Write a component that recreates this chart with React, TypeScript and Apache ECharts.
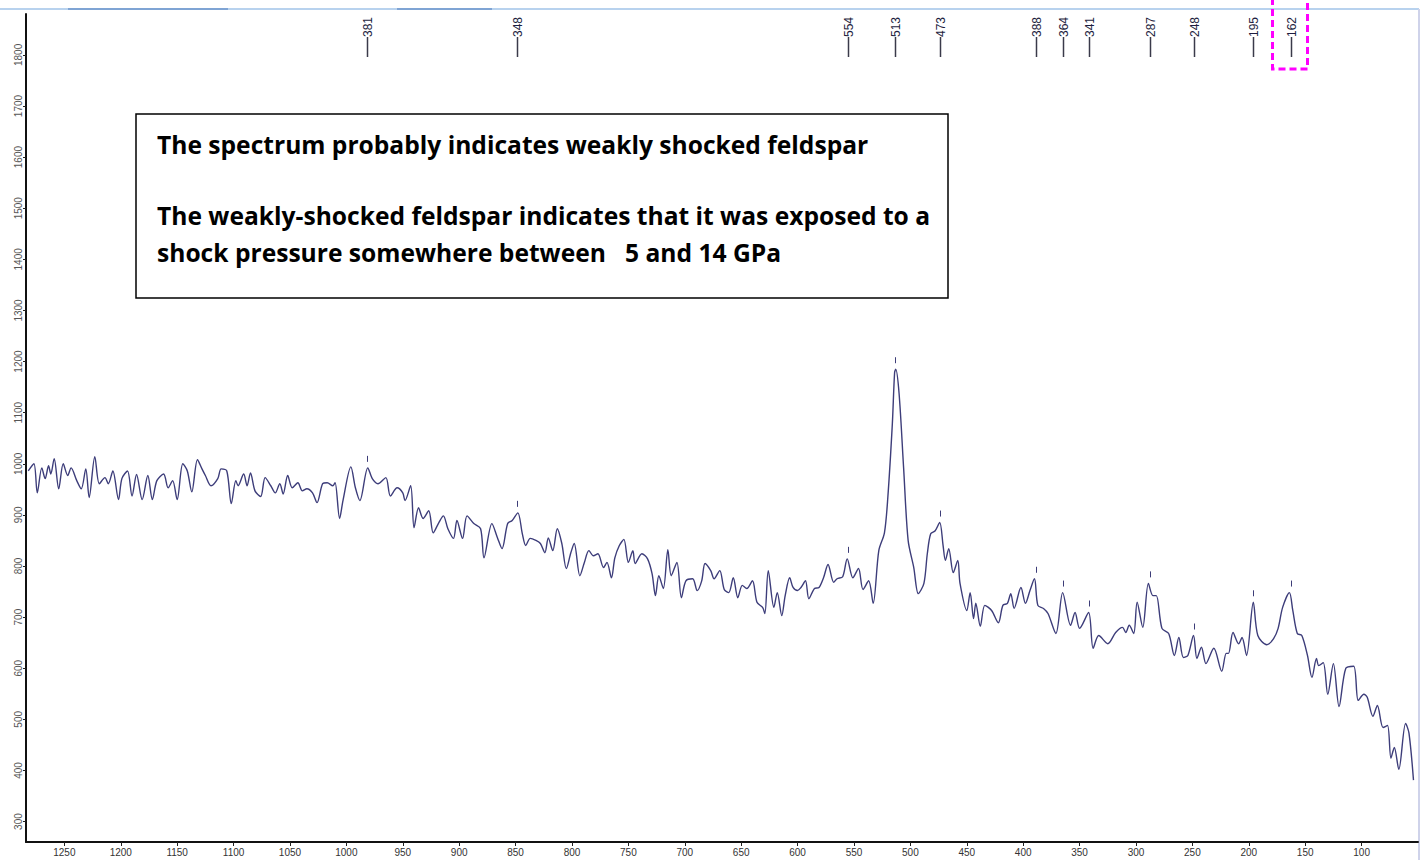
import React, { useEffect, useRef } from "react";
import * as echarts from "echarts";

// Raman shift (cm-1), descending
const wavenumbers = [
  1282, 1277, 1274, 1270, 1267, 1264, 1262, 1259, 1255, 1251, 1247, 1244, 1239, 1235, 1231, 1228, 1223, 1219, 1214, 1211,
  1207, 1202, 1199, 1194, 1190, 1186, 1181, 1176, 1172, 1168, 1162, 1158, 1154, 1150, 1145, 1141, 1137, 1132, 1128, 1125,
  1120, 1114, 1111, 1106, 1102, 1098, 1096, 1091, 1088, 1085, 1081, 1076, 1072, 1067, 1063, 1059, 1056, 1052, 1048, 1043,
  1039, 1035, 1030, 1026, 1021, 1017, 1012, 1010, 1006, 1003, 996, 992, 988, 981, 977, 972, 965, 961, 955, 950,
  948, 943, 940, 936, 932, 927, 923, 918, 914, 910, 905, 902, 897, 893, 887, 881, 878, 871, 866, 862,
  857, 853, 848, 844, 841, 837, 832, 828, 824, 821, 817, 813, 809, 805, 801, 798, 793, 789, 785, 781,
  777, 772, 769, 765, 762, 758, 754, 750, 746, 744, 738, 733, 729, 726, 723, 719, 715, 712, 707, 703,
  699, 693, 689, 685, 682, 677, 674, 669, 665, 661, 657, 653, 649, 645, 640, 636, 631, 629, 626, 621,
  618, 614, 611, 607, 604, 600, 597, 593, 590, 585, 581, 577, 573, 568, 565, 560, 556, 551, 546, 542,
  537, 533, 528, 523, 520, 516, 514, 513, 510, 506, 502, 497, 493, 488, 485, 482, 478, 474, 471, 469,
  466, 462, 458, 456, 450, 447, 444, 442, 438, 434, 428, 422, 418, 414, 411, 408, 402, 398, 394, 390,
  387, 382, 378, 371, 365, 358, 354, 350, 342, 338, 333, 325, 318, 312, 309, 306, 302, 299, 294, 289,
  285, 282, 277, 271, 266, 262, 258, 254, 249, 246, 242, 238, 231, 224, 220, 218, 214, 209, 206, 202,
  196, 192, 184, 178, 174, 170, 164, 161, 157, 153, 148, 144, 140, 138, 134, 130, 125, 120, 114, 107,
  103, 98, 95, 90, 86, 81, 77, 74, 71, 67, 61, 58, 54,
];

const intensities = [
  986, 1000, 943, 992, 971, 996, 980, 1010, 951, 1000, 977, 992, 967, 951, 990, 934, 1014, 961, 973, 961,
  986, 930, 971, 986, 937, 979, 930, 977, 930, 967, 980, 953, 967, 930, 1000, 986, 945, 1008, 990, 977,
  957, 971, 990, 986, 922, 967, 957, 980, 957, 982, 947, 936, 973, 957, 943, 961, 941, 977, 953, 963,
  947, 951, 943, 924, 961, 963, 957, 963, 893, 928, 994, 953, 928, 992, 971, 961, 973, 937, 953, 943,
  928, 957, 875, 914, 893, 908, 865, 885, 898, 873, 854, 889, 854, 898, 883, 873, 816, 883, 855, 834,
  883, 889, 904, 863, 840, 854, 850, 844, 826, 855, 830, 873, 844, 795, 826, 844, 781, 807, 830, 820,
  824, 797, 807, 777, 816, 840, 852, 807, 830, 805, 824, 814, 785, 742, 781, 756, 832, 781, 807, 738,
  771, 775, 752, 771, 805, 791, 775, 791, 754, 748, 777, 738, 762, 756, 771, 729, 719, 707, 791, 719,
  748, 703, 742, 777, 758, 752, 758, 771, 736, 756, 758, 777, 803, 768, 775, 779, 814, 777, 795, 754,
  771, 727, 830, 865, 934, 1078, 1178, 1185, 1137, 992, 850, 797, 746, 766, 824, 863, 869, 885, 840, 811,
  834, 787, 811, 766, 713, 748, 697, 727, 682, 723, 713, 689, 723, 727, 746, 717, 758, 727, 752, 775,
  723, 717, 707, 668, 748, 684, 709, 678, 709, 639, 664, 648, 670, 680, 670, 684, 668, 729, 680, 766,
  742, 742, 678, 668, 625, 660, 621, 625, 664, 619, 641, 609, 639, 594, 629, 629, 670, 648, 660, 625,
  729, 664, 646, 658, 678, 719, 748, 713, 668, 664, 625, 582, 619, 605, 611, 549, 609, 525, 600, 604,
  537, 549, 543, 506, 527, 484, 488, 424, 445, 402, 492, 473, 381,
];

const peakPositions = [981, 848, 554, 513, 473, 388, 364, 341, 287, 248, 195, 162];
const peakLabels = ["381", "348", "554", "513", "473", "388", "364", "341", "287", "248", "195", "162"];
const highlightedPeaks = ["162"];

const xTickValues = [1250, 1200, 1150, 1100, 1050, 1000, 950, 900, 850, 800, 750, 700, 650, 600, 550, 500, 450, 400, 350, 300, 250, 200, 150, 100];
const yTickValues = [300, 400, 500, 600, 700, 800, 900, 1000, 1100, 1200, 1300, 1400, 1500, 1600, 1700, 1800];

const noteLines = [
  "The spectrum probably indicates weakly shocked feldspar",
  "The weakly-shocked feldspar indicates that it was exposed to a",
  "shock pressure somewhere between \u00a0 5 and 14 GPa",
];

function peakIntensity(pos: number): number {
  let best = -Infinity;
  for (let i = 0; i < wavenumbers.length; i++) {
    if (Math.abs(wavenumbers[i] - pos) <= 3 && intensities[i] > best) best = intensities[i];
  }
  if (best === -Infinity) {
    let bi = 0;
    for (let i = 0; i < wavenumbers.length; i++) {
      if (Math.abs(wavenumbers[i] - pos) < Math.abs(wavenumbers[bi] - pos)) bi = i;
    }
    best = intensities[bi];
  }
  return best;
}

export default function App() {
  const ref = useRef<HTMLDivElement>(null);

  useEffect(() => {
    if (!ref.current) return;
    const chart = echarts.init(ref.current, undefined, { renderer: "svg" });
    const FONT = "Liberation Sans, Arial, sans-serif";
    const NOTE_FONT = "bold 24.6px 'Open Sans', sans-serif";

    const option: any = {
      animation: false,
      backgroundColor: "#ffffff",
      grid: { left: 26, right: 6, top: 14, bottom: 18, containLabel: false },
      xAxis: {
        type: "value",
        inverse: true,
        min: 50,
        max: 1284,
        axisLine: { show: true, onZero: false, lineStyle: { color: "#111", width: 2 } },
        axisTick: { show: true, length: 4, customValues: xTickValues, lineStyle: { color: "#222" } },
        axisLabel: {
          customValues: xTickValues,
          fontSize: 10,
          color: "#333",
          margin: 5,
          fontFamily: FONT,
          formatter: (v: number) => String(v),
        },
        splitLine: { show: false },
      },
      yAxis: {
        type: "value",
        min: 260,
        max: 1880,
        axisLine: { show: true, onZero: false, lineStyle: { color: "#111", width: 2 } },
        axisTick: { show: true, length: 3, customValues: yTickValues, lineStyle: { color: "#222" } },
        axisLabel: {
          customValues: yTickValues,
          fontSize: 10,
          color: "#555",
          rotate: 90,
          margin: 3,
          fontFamily: FONT,
          formatter: (v: number) => String(v),
        },
        splitLine: { show: false },
      },
      series: [
        {
          type: "line",
          data: wavenumbers.map((w, i) => [w, intensities[i]]),
          showSymbol: false,
          symbol: "none",
          smooth: 0.3,
          lineStyle: { color: "#3d3d7a", width: 1.4 },
          z: 2,
        },
        {
          type: "custom",
          clip: false,
          z: 3,
          data: peakPositions.map((p) => [p, peakIntensity(p)]),
          renderItem: (params: any, api: any) => {
            const pos = api.value(0);
            const inten = api.value(1);
            const label = peakLabels[params.dataIndex];
            const cs = params.coordSys;
            const pt = api.coord([pos, inten]);
            const px = Math.round(pt[0] - 1) + 0.5;
            const top = cs.y;
            const lineTop = top + 23;
            const lineBottom = top + 43;
            const children: any[] = [
              {
                type: "line",
                shape: { x1: px, y1: lineTop, x2: px, y2: lineBottom },
                style: { stroke: "#3a3a4a", lineWidth: 1.5 },
              },
              {
                type: "text",
                x: px,
                y: lineTop,
                rotation: Math.PI / 2,
                style: {
                  text: label,
                  fill: "#1e1e40",
                  font: `12px ${FONT}`,
                  align: "left",
                  verticalAlign: "middle",
                },
              },
              {
                type: "line",
                shape: { x1: px, y1: pt[1] - 12, x2: px, y2: pt[1] - 6 },
                style: { stroke: "#3d3d78", lineWidth: 1 },
              },
            ];
            if (highlightedPeaks.indexOf(label) >= 0) {
              children.push({
                type: "rect",
                shape: { x: px - 19, y: top - 20, width: 35, height: 75 },
                style: { fill: "none", stroke: "#ff00ff", lineWidth: 3, lineDash: [7, 4] },
              });
            }
            return { type: "group", children };
          },
        },
      ],
      graphic: [
        { type: "line", shape: { x1: 0, y1: 9, x2: 1419, y2: 9 }, style: { stroke: "#b8d2ee", lineWidth: 2 } },
        { type: "line", shape: { x1: 68, y1: 9, x2: 228, y2: 9 }, style: { stroke: "#7fa4d4", lineWidth: 2 } },
        { type: "line", shape: { x1: 397, y1: 9, x2: 492, y2: 9 }, style: { stroke: "#7fa4d4", lineWidth: 2 } },
        { type: "line", shape: { x1: 1419, y1: 9, x2: 1419, y2: 860 }, style: { stroke: "#cfd3ea", lineWidth: 2 } },
        {
          type: "rect",
          shape: { x: 136, y: 114, width: 812, height: 184 },
          style: { fill: "#ffffff", stroke: "#000000", lineWidth: 1.5 },
          z: 10,
        },
        {
          type: "text",
          x: 157,
          y: 144,
          z: 11,
          style: { text: noteLines[0], font: NOTE_FONT, fill: "#000", verticalAlign: "middle" },
        },
        {
          type: "text",
          x: 157,
          y: 215,
          z: 11,
          style: { text: noteLines[1], font: NOTE_FONT, fill: "#000", verticalAlign: "middle" },
        },
        {
          type: "text",
          x: 157,
          y: 252,
          z: 11,
          style: { text: noteLines[2], font: NOTE_FONT, fill: "#000", verticalAlign: "middle" },
        },
      ],
    };

    chart.setOption(option);
    return () => chart.dispose();
  }, []);

  return <div ref={ref} style={{ position: "fixed", left: 0, top: 0, width: 1424, height: 860 }} />;
}
